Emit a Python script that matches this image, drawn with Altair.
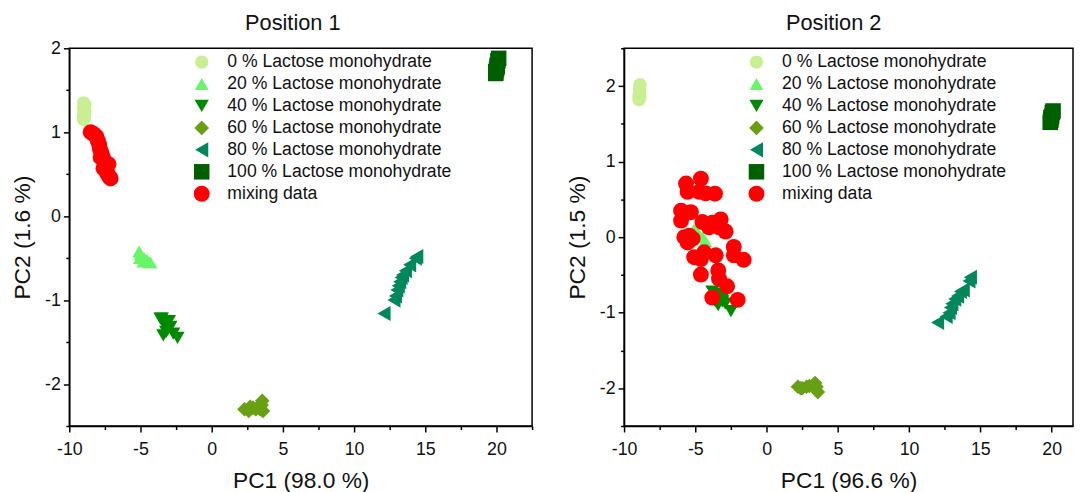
import altair as alt
import pandas as pd

series = ["0 % Lactose monohydrate", "20 % Lactose monohydrate", "40 % Lactose monohydrate",
          "60 % Lactose monohydrate", "80 % Lactose monohydrate", "100 % Lactose monohydrate",
          "mixing data"]
colors = ["#C8EF91", "#68F56A", "#008A00", "#68A014", "#00875C", "#006000", "#FF0000"]
shapes = ["circle", "triangle-up", "triangle-down", "diamond", "triangle-left", "square", "circle"]
sizes = [180, 260, 260, 200, 260, 110, 180]

# ---- Position 1 ----
p1_s0_x = [-9.0, -8.95, -9.0, -8.95, -8.9, -9.0, -8.95, -8.9, -9.0, -8.95]
p1_s0_y = [1.15, 1.18, 1.2, 1.22, 1.25, 1.28, 1.3, 1.33, 1.35, 1.17]
p1_s1_x = [-5.1, -5.0, -4.9, -4.75, -4.6, -4.5, -4.4, -4.8, -5.05, -4.3]
p1_s1_y = [-0.42, -0.45, -0.48, -0.5, -0.52, -0.53, -0.55, -0.54, -0.5, -0.55]
p1_s2_x = [-3.5, -3.0, -3.3, -2.9, -3.2, -3.4, -2.7, -2.4, -3.1, -3.6]
p1_s2_y = [-1.22, -1.25, -1.3, -1.32, -1.38, -1.42, -1.4, -1.45, -1.35, -1.22]
p1_s3_x = [2.3, 2.6, 2.9, 3.1, 3.3, 3.5, 3.6, 2.7, 3.4, 3.55]
p1_s3_y = [-2.3, -2.32, -2.28, -2.3, -2.27, -2.25, -2.32, -2.27, -2.3, -2.2]
p1_s4_x = [12.1, 12.8, 12.9, 13.0, 13.1, 13.2, 13.3, 13.4, 13.6, 13.9, 14.3, 14.4]
p1_s4_y = [-1.16, -1.0, -0.95, -0.88, -0.83, -0.78, -0.73, -0.7, -0.65, -0.58, -0.5, -0.48]
p1_s5_x = [19.95, 20.0, 20.05, 20.1, 20.15, 20.05, 19.95]
p1_s5_y = [1.72, 1.75, 1.8, 1.85, 1.88, 1.78, 1.7]
p1_mix_x = [-8.5, -8.3, -8.1, -8.0, -7.9, -7.85, -7.75, -7.7, -7.6, -7.55, -7.5, -7.6, -7.45,
            -7.35, -7.3, -7.2, -7.1, -7.25, -7.8]
p1_mix_y = [1.0, 0.98, 0.95, 0.9, 0.85, 0.8, 0.76, 0.72, 0.68, 0.65, 0.6, 0.57, 0.55,
            0.52, 0.5, 0.47, 0.45, 0.62, 0.7]

# ---- Position 2 ----
p2_s0_x = [-8.95, -8.95, -8.9, -8.92, -8.9, -8.88, -8.95, -8.9]
p2_s0_y = [1.82, 1.86, 1.9, 1.94, 1.98, 2.02, 1.88, 1.84]
p2_s1_x = [-5.1, -4.8, -4.5, -4.3, -5.0, -4.7]
p2_s1_y = [0.1, 0.05, 0.0, -0.05, 0.1, 0.02]
p2_s2_x = [-3.8, -3.5, -3.3, -3.1, -2.9, -3.4, -2.5, -3.0, -3.6]
p2_s2_y = [-0.72, -0.75, -0.8, -0.85, -0.88, -0.9, -0.98, -0.78, -0.85]
p2_s3_x = [2.2, 2.5, 2.8, 3.0, 3.3, 3.5, 3.6, 2.4, 3.4]
p2_s3_y = [-1.98, -2.0, -1.98, -1.97, -1.96, -1.98, -2.05, -2.0, -1.93]
p2_s4_x = [12.0, 12.6, 12.8, 12.9, 13.0, 13.2, 13.4, 13.6, 13.8, 14.2, 14.3]
p2_s4_y = [-1.13, -1.05, -1.0, -0.93, -0.88, -0.82, -0.78, -0.72, -0.7, -0.58, -0.53]
p2_s5_x = [19.9, 19.95, 20.0, 20.05, 20.1, 19.95]
p2_s5_y = [1.52, 1.55, 1.6, 1.65, 1.67, 1.58]
p2_mix_x = [-4.61, -5.65, -5.54, -4.73, -4.27, -3.62, -6.0, -5.31, -6.0, -4.5, -3.81, -3.22,
            -3.34, -2.88, -5.77, -5.19, -5.42, -2.3, -2.3, -1.61, -5.08, -4.38, -4.61, -3.57,
            -4.61, -3.39, -3.34, -2.77, -3.81, -2.03, -4.04, -5.54]
p2_mix_y = [0.775, 0.71, 0.6, 0.6, 0.58, 0.575, 0.35, 0.33, 0.22, 0.2, 0.19, 0.235,
            0.13, 0.075, 0.0, -0.02, 0.02, -0.13, -0.24, -0.3, -0.265, -0.2, -0.29, -0.24,
            -0.495, -0.44, -0.55, -0.65, -0.8, -0.83, 0.13, -0.07]


def build(groups):
    rows = []
    for name, xs, ys in groups:
        for xv, yv in zip(xs, ys):
            rows.append({"x": xv, "y": yv, "series": name})
    return pd.DataFrame(rows)


df1 = build([(series[0], p1_s0_x, p1_s0_y), (series[1], p1_s1_x, p1_s1_y),
             (series[2], p1_s2_x, p1_s2_y), (series[3], p1_s3_x, p1_s3_y),
             (series[4], p1_s4_x, p1_s4_y), (series[5], p1_s5_x, p1_s5_y),
             (series[6], p1_mix_x, p1_mix_y)])
df2 = build([(series[0], p2_s0_x, p2_s0_y), (series[1], p2_s1_x, p2_s1_y),
             (series[2], p2_s2_x, p2_s2_y), (series[3], p2_s3_x, p2_s3_y),
             (series[4], p2_s4_x, p2_s4_y), (series[5], p2_s5_x, p2_s5_y),
             (series[6], p2_mix_x, p2_mix_y)])

FONT = "Liberation Sans"


def panel(df, title, xtitle, ytitle, xdom, ydom, xvals, yvals, width, tdx):
    legend = alt.Legend(orient="none", legendX=125, legendY=5, title=None,
                        labelFont=FONT, labelFontSize=17.8, labelColor="#111111",
                        labelLimit=0, rowPadding=3.2, labelOffset=17,
                        symbolStrokeWidth=0, padding=0)
    return alt.Chart(df).mark_point(filled=True, opacity=1, strokeWidth=0).encode(
        x=alt.X("x:Q", scale=alt.Scale(domain=xdom, nice=False, zero=False),
                axis=alt.Axis(title=xtitle, values=xvals,
                              labelExpr="datum.value % 5 === 0 ? '' + datum.value : ''",
                              tickSize={"condition": {"test": "datum.value % 5 !== 0", "value": 3.5},
                                        "value": 6},
                              labelPadding=9, titlePadding=11)),
        y=alt.Y("y:Q", scale=alt.Scale(domain=ydom, nice=False, zero=False),
                axis=alt.Axis(title=ytitle, values=yvals,
                              labelExpr="datum.value % 1 === 0 ? '' + datum.value : ''",
                              tickSize={"condition": {"test": "datum.value % 1 !== 0", "value": 3.5},
                                        "value": 6},
                              labelPadding=3, titlePadding=10)),
        color=alt.Color("series:N", scale=alt.Scale(domain=series, range=colors), legend=legend),
        shape=alt.Shape("series:N", scale=alt.Scale(domain=series, range=shapes), legend=legend),
        size=alt.Size("series:N", scale=alt.Scale(domain=series, range=sizes), legend=legend),
    ).properties(
        width=width, height=382,
        title=alt.TitleParams(title, font=FONT, fontSize=22, fontWeight="normal",
                              anchor="middle", offset=5, dx=tdx, color="#111111"),
    )


xv1 = [-10 + 2.5 * i for i in range(14)]
xv2 = [-10 + 2.5 * i for i in range(13)]
yv1 = [-2.5 + 0.5 * i for i in range(10)]
yv2 = [-2.5 + 0.5 * i for i in range(11)]

left = panel(df1, "Position 1", "PC1 (98.0 %)", "PC2 (1.6 %)", [-10, 22.5], [-2.5, 2],
             xv1, yv1, 468, -8)
right = panel(df2, "Position 2", "PC1 (96.6 %)", "PC2 (1.5 %)", [-10, 21.5], [-2.5, 2.5],
              xv2, yv2, 454, -15)

chart = alt.hconcat(left, right, spacing=32).resolve_scale(
    color="independent", shape="independent", size="independent", x="independent", y="independent"
).properties(
    padding={"left": 3, "top": 0, "right": 0, "bottom": 0}
).configure_axis(
    labelFont=FONT, labelFontSize=18, labelColor="#111111",
    titleFont=FONT, titleFontSize=23, titleFontWeight="normal", titleColor="#111111",
    domainColor="black", domainWidth=1.5, tickColor="black", tickWidth=1.5,
    grid=False, labelOverlap=False, labelFlush=False,
).configure_view(stroke="black", strokeWidth=1.5)

chart.save("out.html", embed_options={"renderer": "svg", "actions": False})
